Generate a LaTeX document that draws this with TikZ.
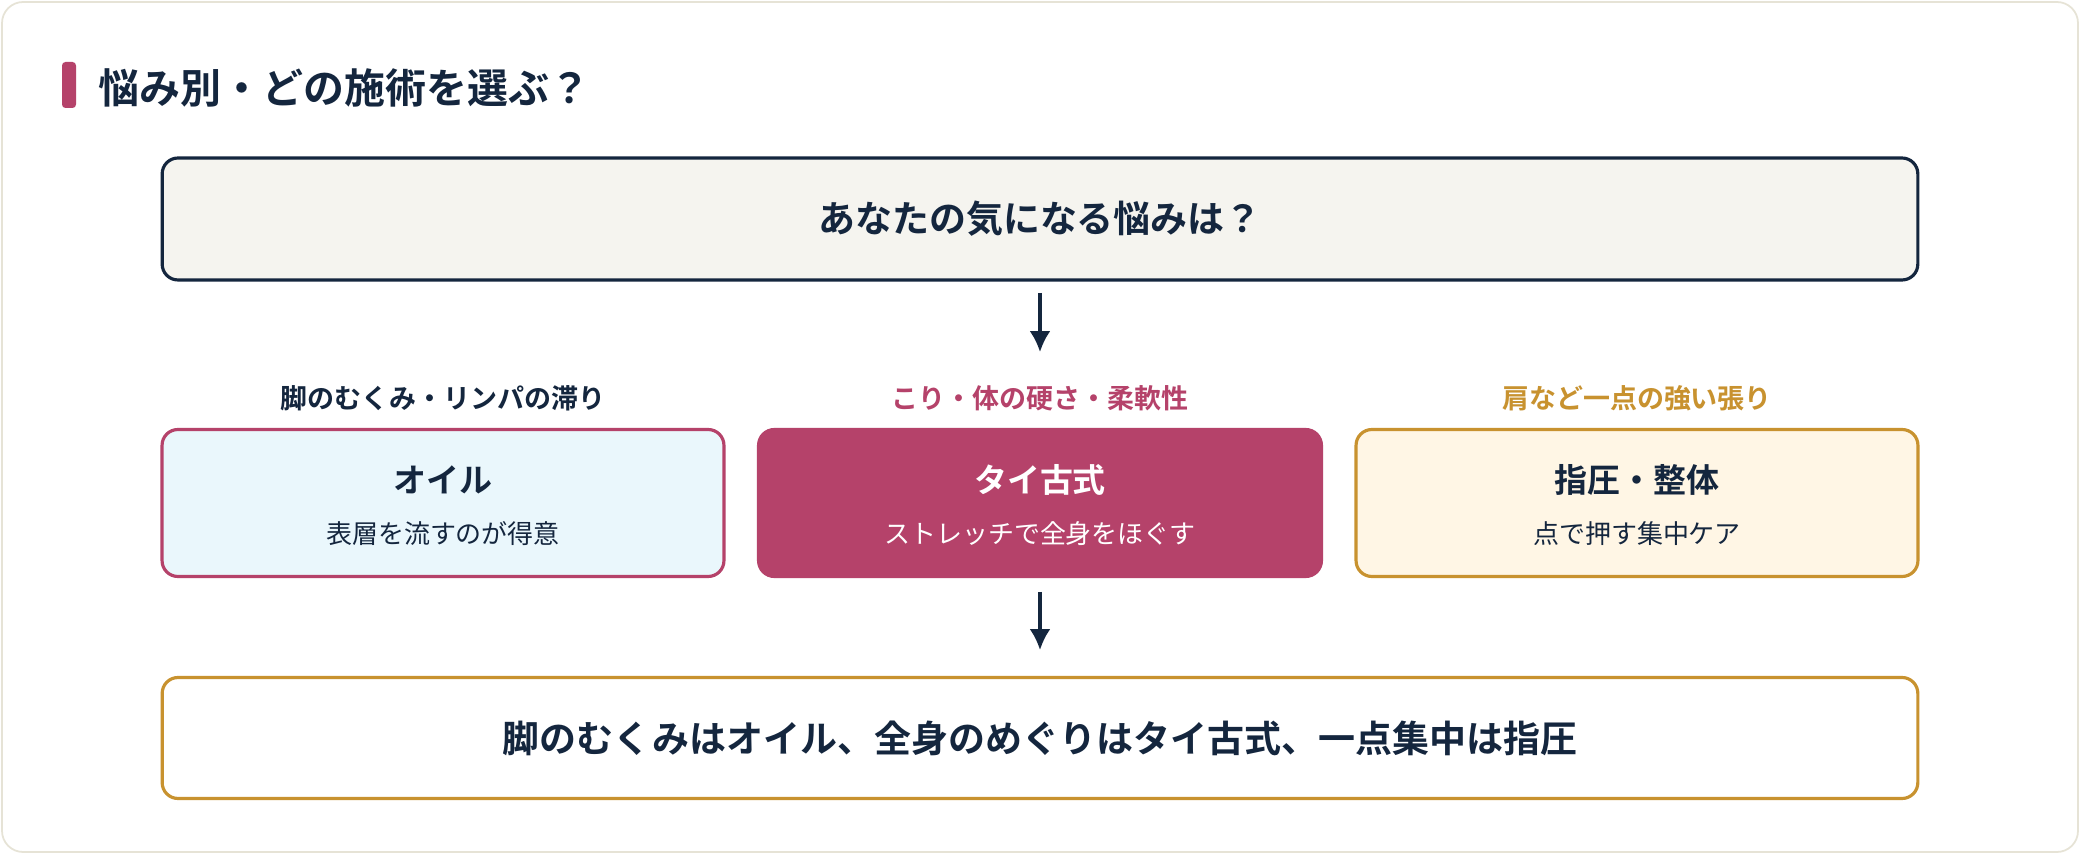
\documentclass[tikz,border=0pt]{standalone}
\usepackage{fontspec}
\setmainfont{Noto Sans CJK JP}
\newfontfamily\jpbold{Noto Sans CJK JP Bold}
\usetikzlibrary{positioning,arrows.meta}
\definecolor{navy}{HTML}{14263E}
\definecolor{crimson}{HTML}{B5426A}
\definecolor{gold}{HTML}{C8922F}
\definecolor{paper}{HTML}{F5F4EF}
\definecolor{ice}{HTML}{EAF7FC}
\definecolor{cream}{HTML}{FFF6E5}
\definecolor{frame}{HTML}{E6E3D6}
\newcommand{\px}[1]{\fontsize{\fpeval{#1*0.569}pt}{\fpeval{#1*0.7}pt}\selectfont}
\begin{document}
\begin{tikzpicture}[%
    x=0.02cm, y=-0.02cm,
    >={Latex[length=0.42cm,width=0.42cm]},
    box/.style={draw, line width=1.8pt, rounded corners=9pt, inner sep=0pt},
    head/.style={font=\jpbold\px{33}, text=navy},
    sub/.style={font=\px{26}, text=navy},
    tag/.style={font=\jpbold\px{27}},
    flow/.style={->, line width=1.8pt, draw=navy}]
    \useasboundingbox (0,0) rectangle (2080,854);
    \draw[frame, line width=1pt, rounded corners=12pt, fill=white] (2,2) rectangle (2078,852);

    % title
    \fill[crimson, rounded corners=2pt] (62,62) rectangle (76,108);
    \node[anchor=west, font=\jpbold\px{41}, text=navy] (title) at (92,88) {悩み別・どの施術を選ぶ？};

    % question
    \node[box, draw=navy, fill=paper, minimum width=35.12cm, minimum height=2.44cm,
          font=\jpbold\px{37}, text=navy] (ask) at (1040,219) {あなたの気になる悩みは？};

    % three options
    \node[box, draw=crimson, fill=ice, minimum width=11.24cm, minimum height=2.94cm] (oil) at (443,503) {};
    \node[box, draw=crimson, fill=crimson, minimum width=11.26cm, minimum height=2.94cm] (thai) at (1040,503) {};
    \node[box, draw=gold, fill=cream, minimum width=11.24cm, minimum height=2.94cm] (shiatsu) at (1637,503) {};

    \node[head] (oil_t) at (443,480) {オイル};
    \node[sub] (oil_s) at (443,534) {表層を流すのが得意};
    \node[head, text=white] (thai_t) at (1040,480) {タイ古式};
    \node[sub, text=white] (thai_s) at (1040,534) {ストレッチで全身をほぐす};
    \node[head] (shiatsu_t) at (1637,480) {指圧・整体};
    \node[sub] (shiatsu_s) at (1637,534) {点で押す集中ケア};

    \node[tag, text=navy] (oil_tag) at (443,398) {脚のむくみ・リンパの滞り};
    \node[tag, text=crimson] (thai_tag) at (1040,398) {こり・体の硬さ・柔軟性};
    \node[tag, text=gold] (shiatsu_tag) at (1637,398) {肩など一点の強い張り};

    % summary
    \node[box, draw=gold, fill=white, minimum width=35.12cm, minimum height=2.42cm,
          font=\jpbold\px{37}, text=navy] (sum) at (1040,738) {脚のむくみはオイル、全身のめぐりはタイ古式、一点集中は指圧};

    \coordinate (a1) at (1040,293);
    \coordinate (a2) at (1040,352);
    \coordinate (b1) at (1040,592);
    \coordinate (b2) at (1040,650);
    \draw[flow] (a1) -- (a2);
    \draw[flow] (b1) -- (b2);
\end{tikzpicture}
\end{document}
